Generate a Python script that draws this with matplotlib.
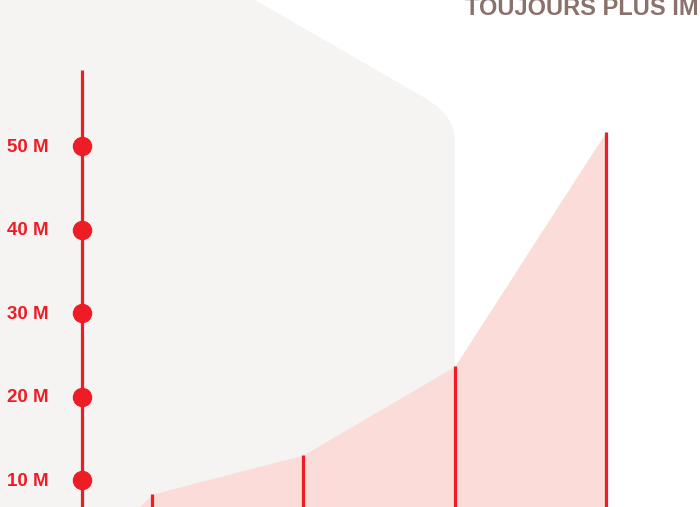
import matplotlib.pyplot as plt
from matplotlib.path import Path
from matplotlib.patches import PathPatch
import matplotlib.transforms as mtransforms

# Data (millions)
periods = [1, 2, 3, 4]
values = [8.3, 13.0, 23.6, 51.7]
tick_values = [10, 20, 30, 40, 50]
tick_labels = ["10 M", "20 M", "30 M", "40 M", "50 M"]
title = "TOUJOURS PLUS IMPORTANT"

RED = "#ee1d25"
PINK = "#fbdcd8"
GRAY = "#f5f4f2"
BROWN = "#8a716b"

W, H = 700, 507
fig = plt.figure(figsize=(W / 100, H / 100), dpi=100, facecolor="white")
ax = fig.add_axes([0, 0, 1, 1])
ax.set_facecolor("none")
ax.set_zorder(1)
ax.axis("off")

# x: 1 unit = 151.3 px, y: 1 M = 8.35 px
ax.set_xlim(-0.0046, 4.622)
ax.set_ylim(6.77, 67.49)
axis_x = 0.537


def px(x, y):
    return (x / W, 1 - y / H)


# light gray background shape (decoration, pixel coords)
verts = [px(0, 0), px(255, 0), px(425, 98), px(455, 116), px(455, 140),
         px(455, 507), px(0, 507), px(0, 0)]
codes = [Path.MOVETO, Path.LINETO, Path.LINETO, Path.CURVE3, Path.CURVE3,
         Path.LINETO, Path.LINETO, Path.CLOSEPOLY]
bg = PathPatch(Path(verts, codes), facecolor=GRAY, edgecolor="none",
               transform=fig.transFigure, zorder=0)
fig.patches.append(bg)

# area
ax.fill_between([axis_x] + periods, [0] + values, 0, color=PINK, lw=0, zorder=1)

# vertical bars
ax.vlines(periods, 0, values, color=RED, lw=2.3, zorder=2)

# axis with dots
ax.plot([axis_x, axis_x], [0, 59.1], color=RED, lw=2.3, zorder=3,
        solid_capstyle="butt")
ax.plot([axis_x] * len(tick_values), tick_values, "o", color=RED,
        markersize=13, zorder=4)

trans = mtransforms.blended_transform_factory(ax.transAxes, ax.transData)
for v, lab in zip(tick_values, tick_labels):
    ax.text(7 / W, v - 0.15, lab, transform=trans, ha="left", va="center",
            color=RED, fontsize=13.5, fontweight="bold",
            family=["Liberation Sans", "DejaVu Sans"])

fig.text(465 / W, 1 - 15 / H, title, ha="left", va="baseline", color=BROWN,
         fontsize=17, fontweight="bold",
         family=["Liberation Sans", "DejaVu Sans"], zorder=5)

fig.savefig("out.png", dpi=100, facecolor="white")
